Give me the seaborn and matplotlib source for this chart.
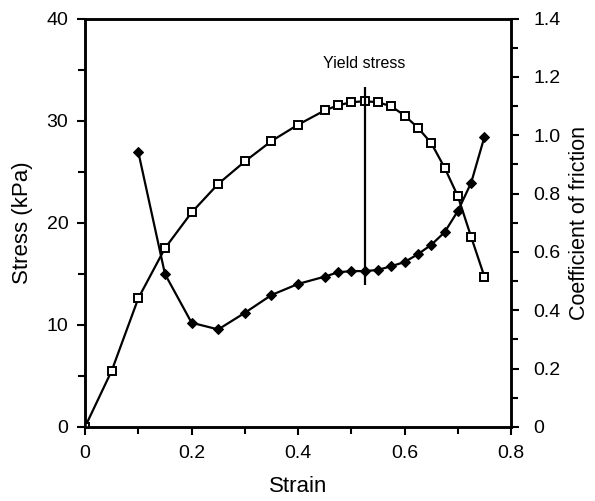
import numpy as np
import pandas as pd
import matplotlib
matplotlib.use("Agg")
import matplotlib.pyplot as plt
import seaborn as sns
from matplotlib.ticker import MultipleLocator, FuncFormatter

# Data
strain_stress = [0, 0.05, 0.1, 0.15, 0.2, 0.25, 0.3, 0.35, 0.4, 0.45, 0.475, 0.5,
                 0.525, 0.55, 0.575, 0.6, 0.625, 0.65, 0.675, 0.7, 0.725, 0.75]
stress_kpa = [0, 5.5, 12.6, 17.5, 21.0, 23.8, 26.0, 28.0, 29.6, 31.0, 31.5, 31.8,
              31.9, 31.8, 31.4, 30.5, 29.3, 27.8, 25.4, 22.6, 18.6, 14.7]
strain_friction = [0.1, 0.15, 0.2, 0.25, 0.3, 0.35, 0.4, 0.45, 0.475, 0.5, 0.525,
                   0.55, 0.575, 0.6, 0.625, 0.65, 0.675, 0.7, 0.725, 0.75]
friction = [0.942, 0.524, 0.357, 0.334, 0.391, 0.452, 0.490, 0.515, 0.530, 0.534,
            0.534, 0.538, 0.551, 0.565, 0.592, 0.624, 0.667, 0.740, 0.837, 0.995]
yield_strain = 0.525
yield_range = [13.9, 33.3]

sns.set_style("ticks")
plt.rcParams['font.family'] = ['Liberation Sans', 'DejaVu Sans']
for k in ("text.color", "axes.labelcolor", "xtick.color", "ytick.color", "axes.edgecolor"):
    plt.rcParams[k] = "black"

fig = plt.figure(figsize=(5.95, 5.01), dpi=100)
ax = fig.add_axes([0.143, 0.148, 0.716, 0.815])
ax2 = ax.twinx()

df_s = pd.DataFrame({"strain": strain_stress, "stress": stress_kpa})
df_f = pd.DataFrame({"strain": strain_friction, "friction": friction})

sns.lineplot(data=df_s, x="strain", y="stress", ax=ax, color="black", lw=1.6,
             marker="s", markersize=5.5, markerfacecolor="white",
             markeredgecolor="black", markeredgewidth=1.4, zorder=3)
sns.lineplot(data=df_f, x="strain", y="friction", ax=ax2, color="black", lw=1.6,
             marker="D", markersize=5.5, markerfacecolor="black",
             markeredgecolor="black", zorder=3)

ax.vlines(yield_strain, yield_range[0], yield_range[1], color="black", lw=1.6, zorder=4)
ax.text(yield_strain, 35.6, "Yield stress", ha="center", va="center", fontsize=11.5)

ax.set_xlim(0, 0.8)
ax.set_ylim(0, 40)
ax2.set_ylim(0, 1.4)

fmt0 = FuncFormatter(lambda v, p: "0" if abs(v) < 1e-9 else f"{v:.1f}")
ax.xaxis.set_major_locator(MultipleLocator(0.2))
ax.xaxis.set_minor_locator(MultipleLocator(0.1))
ax.xaxis.set_major_formatter(fmt0)
ax.yaxis.set_major_locator(MultipleLocator(10))
ax.yaxis.set_minor_locator(MultipleLocator(5))
ax2.yaxis.set_major_locator(MultipleLocator(0.2))
ax2.yaxis.set_minor_locator(MultipleLocator(0.1))
ax2.yaxis.set_major_formatter(fmt0)

for a in (ax, ax2):
    a.tick_params(which="both", direction="out", width=1.5, labelsize=14)
    a.tick_params(which="major", length=6)
    a.tick_params(which="minor", length=5)
    for s in a.spines.values():
        s.set_visible(True)
        s.set_linewidth(1.8)
ax.tick_params(axis="x", which="both", pad=7)
ax.tick_params(axis="y", which="both", pad=6)
ax2.tick_params(axis="y", which="both", pad=10)

ax.set_xlabel("Strain", fontsize=16, labelpad=10)
ax.set_ylabel("Stress (kPa)", fontsize=16, labelpad=10)
ax2.set_ylabel("Coefficient of friction", fontsize=15.5, labelpad=6)
ax.grid(False)
ax2.grid(False)

fig.savefig("out.png", dpi=100)
